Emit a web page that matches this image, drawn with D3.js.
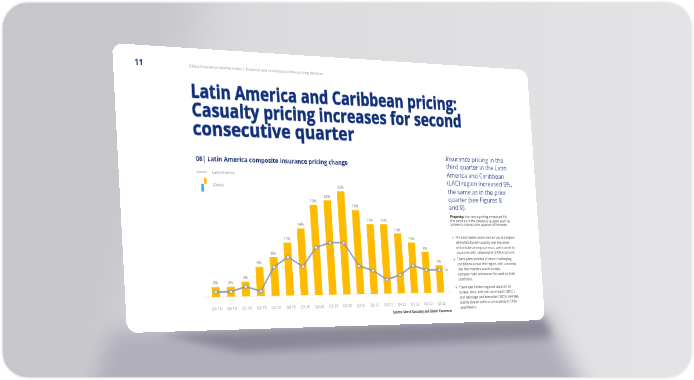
<!DOCTYPE html>
<html>
<head>
<meta charset="utf-8">
<title>Latin America composite insurance pricing change</title>
<script src="https://cdn.jsdelivr.net/npm/d3@7"></script>
<style>
  html, body { margin: 0; padding: 0; background: #fff; }
  #stage { position: relative; width: 694px; height: 380px; overflow: hidden; }
  #bg { position: absolute; left: 0; top: 0; }
  #page {
    position: absolute; left: 0; top: 0;
    width: 640px; height: 360px;
    transform-origin: 0 0;
    background: #fff;
    border-radius: 14px;
  }
  #page svg { display: block; }
  text { font-family: "Open Sans", "Noto Sans", sans-serif; }
</style>
</head>
<body>
<div id="stage">
  <svg id="bg" width="694" height="380"></svg>
  <div id="page"><svg id="chart" width="640" height="360"></svg></div>
</div>
<script>
// chart data
let quarters = ['Q3 18','Q4 18','Q1 19','Q2 19','Q3 19','Q4 19','Q1 20','Q2 20','Q3 20',
                'Q4 20','Q1 21','Q2 21','Q3 21','Q4 21','Q1 22','Q2 22','Q3 22'];
let globalPricing = [2, 2, 3, 6, 8, 11, 14, 19, 20, 22, 18, 15, 15, 13, 11, 9, 6];
let latamPricing  = [1, 1, 2, 1, 6, 8, 6, 10, 11, 11, 6, 5, 3, 4, 6, 5, 5];

// page texts
let titleLines = ['Latin America and Caribbean pricing:',
                  'Casualty pricing increases for second',
                  'consecutive quarter'];
let introLines = ['Insurance pricing in the', 'third quarter in the Latin', 'America and Caribbean',
                  '(LAC) region increased 5%,', 'the same as in the prior', 'quarter (see Figures 8',
                  'and 9).'];
let propertyLines = ['Insurance pricing increased 5%,', 'the same as in the previous quarter and the',
                     'sixteenth consecutive quarter of increase.'];
let bullets = [
  ['Price increases continued across the region', 'when facultative capacity was required,',
   'which is becoming common, particularly for', 'countries with catastrophe (CAT) exposure.'],
  ['There were pockets of more challenging', 'conditions across the region, with concerns',
   'that few markets would accept', 'complex risks as insurers focused on their', 'portfolios.'],
  ['There was limited regional capacity for', 'strikes, riots, and civil commotion (SRCC)',
   'and sabotage and terrorism (S&T) coverage,', 'mainly due to political uncertainty in Chile',
   'and Mexico.']
];

// where the page corners land in the photo (TL, TR, BR, BL)
const corners = [[112, 43], [527, 70], [545, 320], [127, 333]];
const W = 640, H = 360;
const navy = '#12307a';

// ---------- background ----------
let bg = d3.select('#bg');
let defs = bg.append('defs');
let grad = defs.append('linearGradient').attr('id', 'bgGrad').attr('x1', 0).attr('x2', 1).attr('y1', 0).attr('y2', 0);
grad.append('stop').attr('offset', 0).attr('stop-color', '#d6d6da');
grad.append('stop').attr('offset', 1).attr('stop-color', '#e4e4e6');
[['blur30', 28], ['blur10', 10], ['blur4', 4]].forEach(([id, s]) => {
  defs.append('filter').attr('id', id).attr('x', '-50%').attr('y', '-50%').attr('width', '200%').attr('height', '200%')
    .append('feGaussianBlur').attr('stdDeviation', s);
});
defs.append('clipPath').attr('id', 'frameClip')
  .append('rect').attr('x', 2).attr('y', 2).attr('width', 690).attr('height', 376).attr('rx', 26);

let frame = bg.append('g').attr('clip-path', 'url(#frameClip)');
frame.append('rect').attr('width', 694).attr('height', 380).attr('fill', 'url(#bgGrad)');
frame.append('polygon').attr('points', '-40,-40 215,-40 100,420 -40,420')
  .attr('fill', '#c6c6cb').attr('filter', 'url(#blur30)');
frame.append('polygon').attr('points', '110,330 545,312 600,420 80,420')
  .attr('fill', '#b1afbc').attr('filter', 'url(#blur10)');
frame.append('polygon').attr('points', '160,334 545,318 552,338 240,352')
  .attr('fill', '#8a8897').attr('filter', 'url(#blur4)');
bg.append('rect').attr('x', 2).attr('y', 2).attr('width', 690).attr('height', 376).attr('rx', 26)
  .attr('fill', 'none').attr('stroke', '#ededee').attr('stroke-width', 1.5);

// ---------- perspective of the page ----------
function squareToQuad(p) {
  let [x0, y0] = p[0], [x1, y1] = p[1], [x2, y2] = p[2], [x3, y3] = p[3];
  let dx1 = x1 - x2, dx2 = x3 - x2, dx3 = x0 - x1 + x2 - x3;
  let dy1 = y1 - y2, dy2 = y3 - y2, dy3 = y0 - y1 + y2 - y3;
  let den = dx1 * dy2 - dx2 * dy1;
  let g = (dx3 * dy2 - dx2 * dy3) / den;
  let h = (dx1 * dy3 - dx3 * dy1) / den;
  return { a: x1 - x0 + g * x1, b: x3 - x0 + h * x3, c: x0,
           d: y1 - y0 + g * y1, e: y3 - y0 + h * y3, f: y0, g: g, h: h };
}
let m = squareToQuad(corners);
d3.select('#page').style('transform',
  `matrix3d(${m.a / W},${m.d / W},0,${m.g / W},${m.b / H},${m.e / H},0,${m.h / H},0,0,1,0,${m.c},${m.f},0,1)`);

// ---------- page content ----------
let svg = d3.select('#chart');

svg.append('text').attr('x', 29).attr('y', 26).text('11')
  .attr('font-size', 10).attr('font-weight', 700).attr('fill', navy);
svg.append('text').attr('x', 104).attr('y', 25)
  .text('Global Insurance Market Index | Financial and professional lines pricing declines')
  .attr('font-size', 4.5).attr('fill', '#9a9aa6')
  .attr('textLength', 196).attr('lengthAdjust', 'spacingAndGlyphs');

let titleWidths = [409, 415, 239];
svg.append('g').selectAll('text')
  .data(titleLines)
  .join('text')
    .attr('x', 104)
    .attr('y', (d, i) => 64 + i * 24)
    .attr('font-family', '"Noto Sans", sans-serif')
    .attr('font-size', 25)
    .attr('font-weight', 700)
    .attr('fill', navy)
    .attr('stroke', navy)
    .attr('stroke-width', 0.6)
    .attr('textLength', (d, i) => titleWidths[i])
    .attr('lengthAdjust', 'spacingAndGlyphs')
    .text(d => d);

// chart title + legend
svg.append('text').attr('x', 106).attr('y', 145)
  .text('08| Latin America composite insurance pricing change')
  .attr('font-size', 9).attr('font-weight', 700).attr('fill', '#1b2f6b')
  .attr('textLength', 224).attr('lengthAdjust', 'spacingAndGlyphs');

let legend = svg.append('g');
legend.append('line').attr('x1', 106).attr('x2', 120).attr('y1', 159).attr('y2', 159)
  .attr('stroke', '#9ba5bb').attr('stroke-width', 1);
legend.append('text').attr('x', 128).attr('y', 161.5).text('Latin America')
  .attr('font-size', 5).attr('fill', '#8e8e9a');
legend.append('rect').attr('x', 116).attr('y', 166.5).attr('width', 3.5).attr('height', 7.5).attr('fill', '#ffbb00');
legend.append('rect').attr('x', 111.5).attr('y', 174).attr('width', 3.7).attr('height', 10).attr('fill', '#3fa9e0');
legend.append('text').attr('x', 128).attr('y', 177).text('Global')
  .attr('font-size', 5).attr('fill', '#8e8e9a');

// scales
let x = d3.scaleBand()
  .domain(quarters)
  .range([110, 479])
  .paddingInner(0.466)
  .paddingOuter(0.375);
let y = d3.scaleLinear()
  .domain([0, 24])
  .range([318, 168]);

let g = svg.append('g');

g.append('line').attr('x1', 104).attr('x2', 484).attr('y1', y(0)).attr('y2', y(0))
  .attr('stroke', '#e6e6e6').attr('stroke-width', 0.8);

g.selectAll('.bar')
  .data(globalPricing)
  .join('rect')
    .attr('class', 'bar')
    .attr('x', (d, i) => x(quarters[i]))
    .attr('y', d => y(d))
    .attr('width', x.bandwidth())
    .attr('height', d => y(0) - y(d))
    .attr('fill', '#ffbb00');

g.selectAll('.barLabel')
  .data(globalPricing)
  .join('text')
    .attr('class', 'barLabel')
    .attr('x', (d, i) => x(quarters[i]) + x.bandwidth() / 2)
    .attr('y', d => y(d) - 3)
    .attr('text-anchor', 'middle')
    .attr('font-size', 5)
    .attr('fill', '#6b6b75')
    .text(d => d + '%');

let line = d3.line()
  .x((d, i) => x(quarters[i]) + x.bandwidth() / 2)
  .y(d => y(d));

g.append('path')
  .datum(latamPricing)
  .attr('d', line)
  .attr('fill', 'none')
  .attr('stroke', '#8796b2')
  .attr('stroke-width', 1.9);

g.selectAll('.dot')
  .data(latamPricing)
  .join('circle')
    .attr('class', 'dot')
    .attr('cx', (d, i) => x(quarters[i]) + x.bandwidth() / 2)
    .attr('cy', d => y(d))
    .attr('r', 2.2)
    .attr('fill', '#fff')
    .attr('stroke', '#8796b2')
    .attr('stroke-width', 1.2);

let lastI = latamPricing.length - 1;
g.append('text')
  .attr('x', x(quarters[lastI]) + x.bandwidth() / 2 + 8)
  .attr('y', y(latamPricing[lastI]) + 2)
  .attr('font-size', 5)
  .attr('fill', '#8e8e9a')
  .text(latamPricing[lastI] + '%');

let xAxis = g.append('g')
  .attr('transform', `translate(0,${y(0)})`)
  .call(d3.axisBottom(x).tickSize(0).tickPadding(13));
xAxis.select('.domain').remove();
xAxis.selectAll('text')
  .attr('font-size', 5)
  .attr('font-family', '"Open Sans", sans-serif')
  .attr('fill', '#8b93aa');

svg.append('text').attr('x', 482).attr('y', 345).attr('text-anchor', 'end')
  .text('Source: Marsh Specialty and Global Placement')
  .attr('font-size', 5).attr('font-weight', 700).attr('fill', '#33333d')
  .attr('textLength', 96).attr('lengthAdjust', 'spacingAndGlyphs');

// right column
svg.append('g').selectAll('text')
  .data(introLines)
  .join('text')
    .attr('x', 488)
    .attr('y', (d, i) => 136 + i * 11.4)
    .attr('font-size', 9)
    .attr('fill', '#3d4d8e')
    .text(d => d);

let prop = svg.append('g').attr('font-size', 5).attr('fill', '#4a4a55');
propertyLines.forEach((t, i) => {
  let txt = prop.append('text').attr('x', 489).attr('y', 215 + i * 5.6);
  if (i === 0) txt.append('tspan').attr('font-weight', 700).attr('fill', '#22222a').text('Property: ');
  txt.append('tspan').text(t);
});

let bulletTop = [244, 274, 313];
bullets.forEach((lines, b) => {
  let bg2 = svg.append('g').attr('font-size', 5).attr('fill', '#4a4a55');
  bg2.append('circle').attr('cx', 491.5).attr('cy', bulletTop[b] - 1.6).attr('r', 1)
    .attr('fill', '#2aa5b5');
  bg2.selectAll('text')
    .data(lines)
    .join('text')
      .attr('x', 496)
      .attr('y', (d, i) => bulletTop[b] + i * 6.9)
      .text(d => d);
});
</script>
</body>
</html>
